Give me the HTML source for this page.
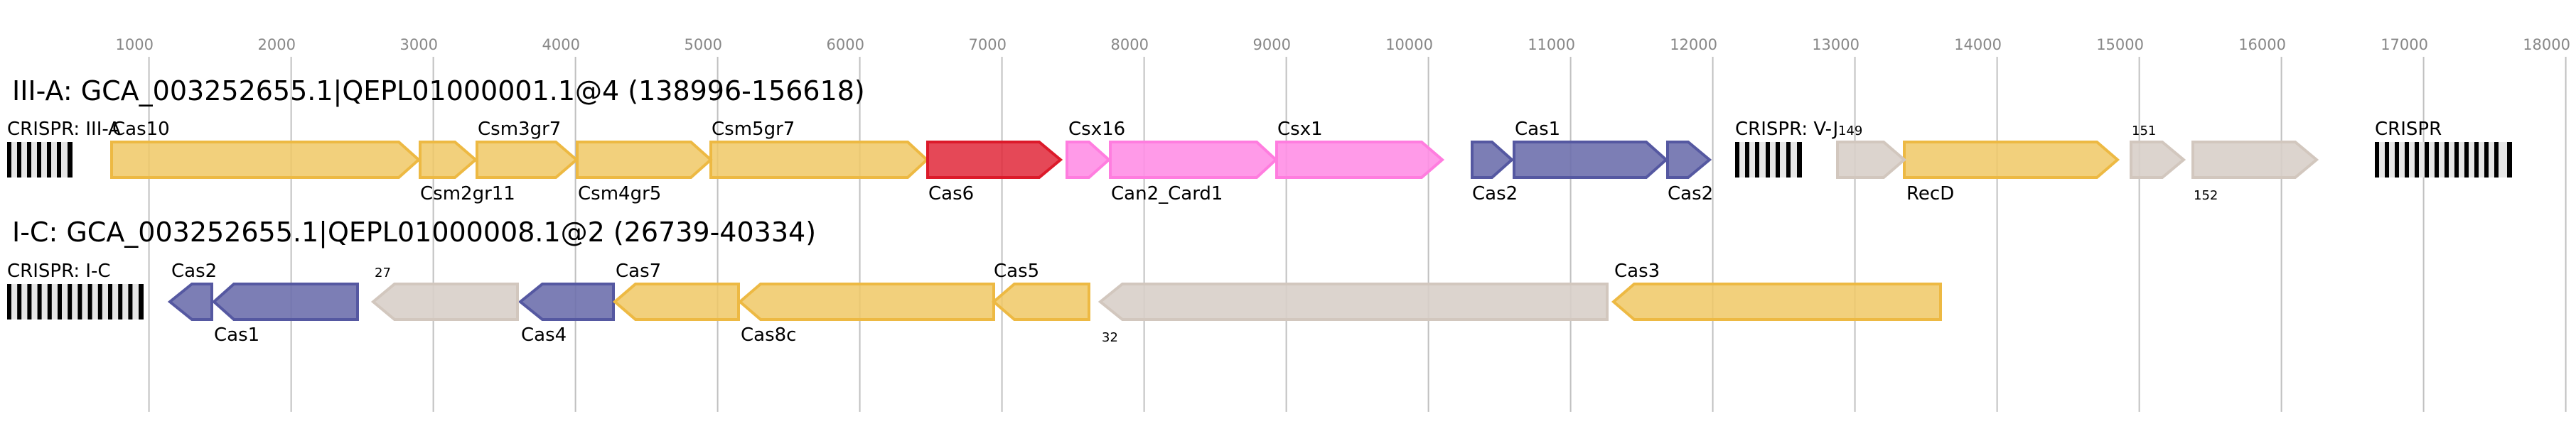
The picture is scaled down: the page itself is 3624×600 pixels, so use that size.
<!DOCTYPE html>
<html><head><meta charset="utf-8"><style>html,body{margin:0;padding:0;background:#fff;}svg{display:block}</style></head>
<body>
<svg width="3624" height="600" xmlns="http://www.w3.org/2000/svg" font-family="'DejaVu Sans','Liberation Sans',sans-serif">
<g stroke="#c0c0c0" stroke-width="2">
<line x1="209.6" y1="80" x2="209.6" y2="580"/><line x1="409.6" y1="80" x2="409.6" y2="580"/><line x1="609.6" y1="80" x2="609.6" y2="580"/><line x1="809.6" y1="80" x2="809.6" y2="580"/><line x1="1009.6" y1="80" x2="1009.6" y2="580"/><line x1="1209.6" y1="80" x2="1209.6" y2="580"/><line x1="1409.6" y1="80" x2="1409.6" y2="580"/><line x1="1609.6" y1="80" x2="1609.6" y2="580"/><line x1="1809.6" y1="80" x2="1809.6" y2="580"/><line x1="2009.6" y1="80" x2="2009.6" y2="580"/><line x1="2209.6" y1="80" x2="2209.6" y2="580"/><line x1="2409.6" y1="80" x2="2409.6" y2="580"/><line x1="2609.6" y1="80" x2="2609.6" y2="580"/><line x1="2809.6" y1="80" x2="2809.6" y2="580"/><line x1="3009.6" y1="80" x2="3009.6" y2="580"/><line x1="3209.6" y1="80" x2="3209.6" y2="580"/><line x1="3409.6" y1="80" x2="3409.6" y2="580"/><line x1="3609.6" y1="80" x2="3609.6" y2="580"/>
</g>
<g fill="#888" font-size="21" text-anchor="end">
<text x="216" y="70">1000</text><text x="416" y="70">2000</text><text x="616" y="70">3000</text><text x="816" y="70">4000</text><text x="1016" y="70">5000</text><text x="1216" y="70">6000</text><text x="1416" y="70">7000</text><text x="1616" y="70">8000</text><text x="1816" y="70">9000</text><text x="2016" y="70">10000</text><text x="2216" y="70">11000</text><text x="2416" y="70">12000</text><text x="2616" y="70">13000</text><text x="2816" y="70">14000</text><text x="3016" y="70">15000</text><text x="3216" y="70">16000</text><text x="3416" y="70">17000</text><text x="3616" y="70">18000</text>
</g>
<text x="17" y="141" font-size="38" fill="#000">III-A: GCA_003252655.1|QEPL01000001.1@4 (138996-156618)</text>
<text x="17" y="340" font-size="38" fill="#000">I-C: GCA_003252655.1|QEPL01000008.1@2 (26739-40334)</text>

<g>
<rect x="10" y="200" width="92" height="50" fill="#e6e6e6"/>
<rect x="10" y="400" width="192" height="50" fill="#e6e6e6"/>
<rect x="2441" y="200" width="94" height="50" fill="#e6e6e6"/>
<rect x="3341" y="200" width="193" height="50" fill="#e6e6e6"/>
</g>
<g fill="#000">
<rect x="10" y="200" width="6" height="50"/><rect x="24" y="200" width="6" height="50"/><rect x="38" y="200" width="6" height="50"/><rect x="52" y="200" width="6" height="50"/><rect x="66" y="200" width="6" height="50"/><rect x="80" y="200" width="6" height="50"/><rect x="95" y="200" width="7" height="50"/>
<rect x="10" y="400" width="6" height="50"/><rect x="24.2" y="400" width="6" height="50"/><rect x="38.4" y="400" width="6" height="50"/><rect x="52.6" y="400" width="6" height="50"/><rect x="66.8" y="400" width="6" height="50"/><rect x="81" y="400" width="6" height="50"/><rect x="95.2" y="400" width="6" height="50"/><rect x="109.4" y="400" width="6" height="50"/><rect x="123.6" y="400" width="6" height="50"/><rect x="137.8" y="400" width="6" height="50"/><rect x="152" y="400" width="6" height="50"/><rect x="166.2" y="400" width="6" height="50"/><rect x="180.4" y="400" width="6" height="50"/><rect x="195" y="400" width="7" height="50"/>
<rect x="2441" y="200" width="6" height="50"/><rect x="2455" y="200" width="6" height="50"/><rect x="2469" y="200" width="6" height="50"/><rect x="2484" y="200" width="6" height="50"/><rect x="2498" y="200" width="6" height="50"/><rect x="2513" y="200" width="6" height="50"/><rect x="2528" y="200" width="7" height="50"/>
<rect x="3341" y="200" width="6" height="50"/><rect x="3355" y="200" width="6" height="50"/><rect x="3369" y="200" width="6" height="50"/><rect x="3383" y="200" width="6" height="50"/><rect x="3397" y="200" width="6" height="50"/><rect x="3411" y="200" width="6" height="50"/><rect x="3425" y="200" width="6" height="50"/><rect x="3439" y="200" width="6" height="50"/><rect x="3453" y="200" width="6" height="50"/><rect x="3467" y="200" width="6" height="50"/><rect x="3481" y="200" width="6" height="50"/><rect x="3495" y="200" width="6" height="50"/><rect x="3509" y="200" width="6" height="50"/><rect x="3527" y="200" width="7" height="50"/>
</g>

<g stroke-width="4" stroke-linejoin="miter">
<g fill="#f0c865" fill-opacity="0.85" stroke="#edb943">
<polygon points="157,200 561,200 589,225 561,250 157,250"/>
<polygon points="591,200 640,200 669,225 640,250 591,250"/>
<polygon points="671,200 782,200 811,225 782,250 671,250"/>
<polygon points="812,200 972,200 1000,225 972,250 812,250"/>
<polygon points="1000,200 1277,200 1304,225 1277,250 1000,250"/>
<polygon points="2679,200 2950,200 2979,225 2950,250 2679,250"/>
</g>
<polygon points="1305,200 1462,200 1492,225 1462,250 1305,250" fill="#e1283a" fill-opacity="0.85" stroke="#dc1a2a"/>
<g fill="#ff8fe6" fill-opacity="0.9" stroke="#ff7ddf">
<polygon points="1501,200 1532,200 1560,225 1532,250 1501,250"/>
<polygon points="1562,200 1768,200 1795,225 1768,250 1562,250"/>
<polygon points="1796,200 2000,200 2029,225 2000,250 1796,250"/>
</g>
<g fill="#6e70ad" fill-opacity="0.9" stroke="#5558a1">
<polygon points="2071,200 2099,200 2127,225 2099,250 2071,250"/>
<polygon points="2130,200 2316,200 2344,225 2316,250 2130,250"/>
<polygon points="2346,200 2375,200 2405,225 2375,250 2346,250"/>
</g>
<g fill="#d8cfc9" fill-opacity="0.9" stroke="#d2c7be">
<polygon points="2585,200 2650,200 2679,225 2650,250 2585,250"/>
<polygon points="2998,200 3042,200 3072,225 3042,250 2998,250"/>
<polygon points="3085,200 3229,200 3259,225 3229,250 3085,250"/>
</g>
<g fill="#6e70ad" fill-opacity="0.9" stroke="#5558a1">
<polygon points="239,425 270,400 298,400 298,450 270,450"/>
<polygon points="301,425 329,400 503,400 503,450 329,450"/>
<polygon points="732,425 763,400 863,400 863,450 763,450"/>
</g>
<g fill="#d8cfc9" fill-opacity="0.9" stroke="#d2c7be">
<polygon points="525,425 555,400 728,400 728,450 555,450"/>
<polygon points="1548,425 1579,400 2261,400 2261,450 1579,450"/>
</g>
<g fill="#f0c865" fill-opacity="0.85" stroke="#edb943">
<polygon points="865,425 894,400 1039,400 1039,450 894,450"/>
<polygon points="1041,425 1070,400 1398,400 1398,450 1070,450"/>
<polygon points="1398,425 1427,400 1532,400 1532,450 1427,450"/>
<polygon points="2270,425 2299,400 2730,400 2730,450 2299,450"/>
</g>
</g>

<g fill="#000" font-size="26">
<text x="10" y="190">CRISPR: III-A</text>
<text x="158" y="190">Cas10</text>
<text x="591" y="281">Csm2gr11</text>
<text x="672" y="190">Csm3gr7</text>
<text x="813" y="281">Csm4gr5</text>
<text x="1001" y="190">Csm5gr7</text>
<text x="1306" y="281">Cas6</text>
<text x="1503" y="190">Csx16</text>
<text x="1563" y="281">Can2_Card1</text>
<text x="1797" y="190">Csx1</text>
<text x="2071" y="281">Cas2</text>
<text x="2131" y="190">Cas1</text>
<text x="2346" y="281">Cas2</text>
<text x="2441" y="190">CRISPR: V-J</text>
<text x="2682" y="281">RecD</text>
<text x="3341" y="190">CRISPR</text>
<text x="10" y="390">CRISPR: I-C</text>
<text x="241" y="390">Cas2</text>
<text x="301" y="480">Cas1</text>
<text x="733" y="480">Cas4</text>
<text x="866" y="390">Cas7</text>
<text x="1042" y="480">Cas8c</text>
<text x="1398" y="390">Cas5</text>
<text x="2271" y="390">Cas3</text>
</g>
<g fill="#000" font-size="18">
<text x="2586" y="190">149</text>
<text x="2999" y="190">151</text>
<text x="3086" y="281">152</text>
<text x="527" y="390">27</text>
<text x="1550" y="481">32</text>
</g>
</svg>
</body></html>
